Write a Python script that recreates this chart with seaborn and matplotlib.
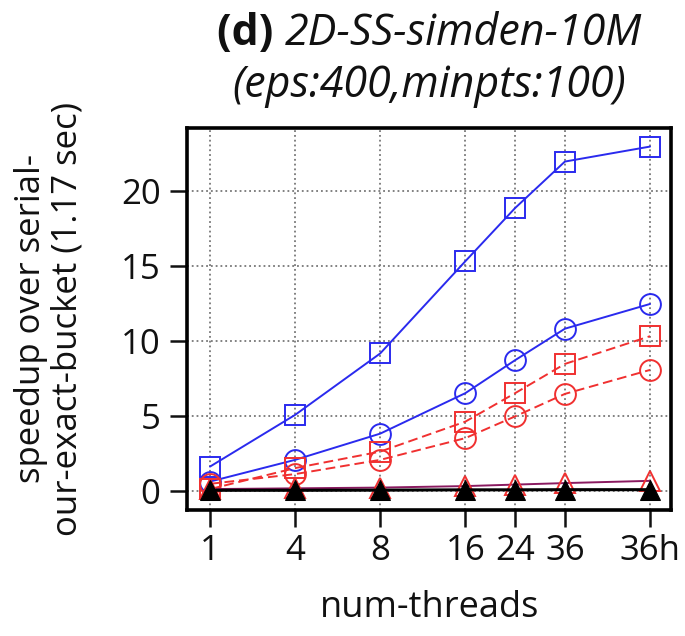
import matplotlib
matplotlib.use('Agg')
import matplotlib.pyplot as plt
import numpy as np
import seaborn as sns

# thread counts shown on the x axis
threads = ['1', '4', '8', '16', '24', '36', '36h']

# speedup values
blue_sq = [1.6, 5.05, 9.15, 15.3, 18.85, 21.95, 22.95]
blue_circ = [0.6, 2.05, 3.8, 6.5, 8.7, 10.8, 12.45]
red_sq = [0.1, 1.5, 2.6, 4.6, 6.5, 8.45, 10.3]
red_circ = [0.45, 1.1, 2.05, 3.5, 4.95, 6.45, 8.05]
purple_tri = [0.1, 0.15, 0.2, 0.3, 0.4, 0.5, 0.65]
black_tri = [0.02, 0.02, 0.03, 0.05, 0.05, 0.06, 0.06]

sns.set_style('ticks')
plt.rcParams['font.family'] = ['Open Sans', 'DejaVu Sans']
plt.rcParams['text.color'] = '#111111'
plt.rcParams['axes.labelcolor'] = '#111111'
plt.rcParams['xtick.color'] = '#111111'
plt.rcParams['ytick.color'] = '#111111'

FS = 25

# log2-like positions: 1 squeezed one step before 4, 36h one step after 36
pos = np.log2([2, 4, 8, 16, 24, 36, 72])

fig = plt.figure(figsize=(6.85, 6.36), dpi=100)
ax = fig.add_axes([0.273, 0.198, 0.707, 0.601])

BLUE = '#2a2aee'
RED = '#f03030'
style = dict(markersize=15, markerfacecolor='none', markeredgewidth=1.4, linewidth=1.4)
sns.lineplot(x=pos, y=blue_sq, ax=ax, color=BLUE, marker='s', markeredgecolor=BLUE, **style)
sns.lineplot(x=pos, y=blue_circ, ax=ax, color=BLUE, marker='o', markeredgecolor=BLUE, **style)
sns.lineplot(x=pos, y=red_sq, ax=ax, color=RED, marker='s', markeredgecolor=RED,
             linestyle=(0, (5, 2.5)), **style)
sns.lineplot(x=pos, y=red_circ, ax=ax, color=RED, marker='o', markeredgecolor=RED,
             linestyle=(0, (5, 2.5)), **style)
sns.lineplot(x=pos, y=purple_tri, ax=ax, color='#8a1a60', marker='^',
             markeredgecolor=RED, **style)
sns.lineplot(x=pos, y=black_tri, ax=ax, color='black', marker='^', markersize=15,
             markeredgecolor='black', linewidth=2.2)

ax.set_xlim(pos[0] - 0.27, pos[-1] + 0.25)
ax.set_ylim(-1.3, 24.2)
ax.set_xticks(pos)
ax.set_xticklabels(threads)
ax.set_yticks([0, 5, 10, 15, 20])
ax.tick_params(labelsize=FS, length=12, width=1.8, direction='out', pad=5)
ax.tick_params(axis='y', pad=7)
ax.grid(True, linestyle=':', color='#777777', linewidth=1.3)
for s in ax.spines.values():
    s.set_linewidth(2.6)
    s.set_color('black')
    s.set_visible(True)

ax.set_xlabel('num-threads', fontsize=FS + 1, labelpad=16)
ax.set_ylabel('speedup over serial-\nour-exact-bucket (1.17 sec)', fontsize=FS,
              labelpad=26, linespacing=1.1)

# two-line title with bold tag and italic name
cx = 0.627
TFS = 31
t1 = fig.text(0, 0, '(d) ', fontsize=TFS, fontweight='bold', va='baseline')
t2 = fig.text(0, 0, '2D-SS-simden-10M', fontsize=TFS, fontstyle='italic', va='baseline')
fig.text(cx, 0.848, '(eps:400,minpts:100)', fontsize=TFS, fontstyle='italic',
         ha='center', va='baseline')
fig.canvas.draw()
r = fig.canvas.get_renderer()
w1 = t1.get_window_extent(r).width / fig.bbox.width
w2 = t2.get_window_extent(r).width / fig.bbox.width
x0 = cx - (w1 + w2) / 2
t1.set_position((x0, 0.93))
t2.set_position((x0 + w1, 0.93))

fig.savefig('out.png', dpi=100)
